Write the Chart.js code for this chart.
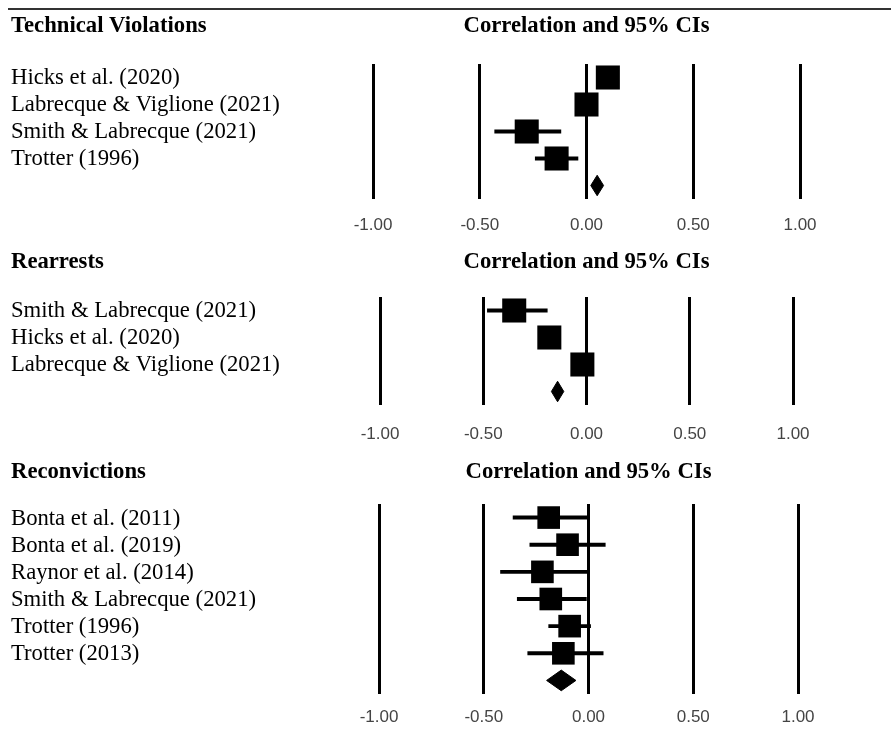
<!DOCTYPE html>
<html>
<head>
<meta charset="utf-8">
<script src="https://cdn.jsdelivr.net/npm/chart.js@4.4.1/dist/chart.umd.min.js"></script>
<style>
  body { margin: 0; background: #fff; }
  .rule { position: absolute; left: 8px; top: 8px; width: 883px; height: 2px; background: #333; }
  canvas { position: absolute; left: 0; }
</style>
</head>
<body>
<div class="rule"></div>
<canvas id="tv" width="891" height="245" style="top:0px"></canvas>
<canvas id="ra" width="891" height="205" style="top:245px"></canvas>
<canvas id="rc" width="891" height="288" style="top:450px"></canvas>
<script>
// x axis ticks
const xTicks = [-1, -0.5, 0, 0.5, 1];

// Technical Violations
const tvStudies = ['Hicks et al. (2020)', 'Labrecque & Viglione (2021)', 'Smith & Labrecque (2021)', 'Trotter (1996)'];
const tvEst = [0.10, 0.00, -0.28, -0.14];
const tvLow = [0.06, -0.04, -0.43, -0.24];
const tvHigh = [0.14, 0.04, -0.12, -0.04];
const tvPooled = [0.02, 0.05, 0.08]; // low, estimate, high

// Rearrests
const raStudies = ['Smith & Labrecque (2021)', 'Hicks et al. (2020)', 'Labrecque & Viglione (2021)'];
const raEst = [-0.35, -0.18, -0.02];
const raLow = [-0.48, -0.22, -0.06];
const raHigh = [-0.19, -0.14, 0.02];
const raPooled = [-0.17, -0.14, -0.11];

// Reconvictions
const rcStudies = ['Bonta et al. (2011)', 'Bonta et al. (2019)', 'Raynor et al. (2014)', 'Smith & Labrecque (2021)', 'Trotter (1996)', 'Trotter (2013)'];
const rcEst = [-0.19, -0.10, -0.22, -0.18, -0.09, -0.12];
const rcLow = [-0.36, -0.28, -0.42, -0.34, -0.19, -0.29];
const rcHigh = [0.00, 0.08, 0.00, -0.01, 0.01, 0.07];
const rcPooled = [-0.20, -0.13, -0.06];

// draws the section heading on the left and the column heading over the plot
const headings = {
  id: 'headings',
  afterDraw(chart, args, opts) {
    const { ctx, chartArea } = chart;
    ctx.save();
    ctx.font = 'bold 22.7px "Liberation Serif"';
    ctx.fillStyle = '#000';
    ctx.textBaseline = 'middle';
    ctx.textAlign = 'left';
    ctx.fillText(opts.left, 11, opts.y);
    ctx.textAlign = 'center';
    ctx.fillText(opts.center, (chartArea.left + chartArea.right) / 2, opts.y);
    ctx.restore();
  }
};

function forest(id, title, studies, est, low, high, pooled, box) {
  const rows = studies.concat(['']); // last row holds the pooled diamond
  const d = studies.length;
  const canvas = document.getElementById(id);
  const h = canvas.height;

  return new Chart(canvas, {
    type: 'scatter',
    data: {
      datasets: [
        {
          // study estimates
          data: est.map((v, i) => ({ x: v, y: i })),
          pointStyle: 'rect',
          pointRadius: box.size,
          pointHoverRadius: box.size,
          backgroundColor: '#000',
          borderWidth: 0
        },
        {
          // confidence intervals
          type: 'bar',
          indexAxis: 'y',
          data: low.map((v, i) => ({ y: i, x: [v, high[i]] })),
          barThickness: 3.3,
          backgroundColor: '#000',
          borderWidth: 0
        },
        {
          // pooled estimate diamond
          data: [
            { x: pooled[0], y: d },
            { x: pooled[1], y: d - 0.38 },
            { x: pooled[2], y: d },
            { x: pooled[1], y: d + 0.38 },
            { x: pooled[0], y: d }
          ],
          showLine: true,
          fill: 'shape',
          backgroundColor: '#000',
          borderColor: '#000',
          borderWidth: 1,
          pointRadius: 0,
          pointHoverRadius: 0
        }
      ]
    },
    options: {
      responsive: false,
      animation: false,
      events: [],
      layout: {
        padding: { left: 11, right: 891 - box.right, top: box.top, bottom: h - box.bottom - 40 }
      },
      plugins: {
        legend: { display: false },
        tooltip: { enabled: false },
        headings: { left: title, center: 'Correlation and 95% CIs', y: box.headY }
      },
      scales: {
        x: {
          type: 'linear',
          min: -1,
          max: 1,
          offset: false,
          afterBuildTicks: s => { s.ticks = xTicks.map(v => ({ value: v })); },
          afterFit: s => { s.height = 40; },
          ticks: {
            autoSkip: false,
            maxRotation: 0,
            padding: box.tickPad,
            color: '#444',
            font: { family: '"Liberation Sans"', size: 17 },
            callback: v => v.toFixed(2)
          },
          grid: { color: '#000', lineWidth: 3, drawTicks: false, offset: false },
          border: { display: false }
        },
        y: {
          type: 'linear',
          reverse: true,
          offset: false,
          min: -0.5,
          max: rows.length - 0.5,
          afterBuildTicks: s => { s.ticks = rows.map((_, i) => ({ value: i })); },
          afterFit: s => { s.width = box.left - 11; },
          ticks: {
            autoSkip: false,
            crossAlign: 'far',
            labelOffset: 1,
            color: '#000',
            font: { family: '"Liberation Serif"', size: 22.7 },
            callback: v => rows[v]
          },
          grid: { display: false, offset: false },
          border: { display: false }
        }
      }
    },
    plugins: [headings]
  });
}

forest('tv', 'Technical Violations', tvStudies, tvEst, tvLow, tvHigh, tvPooled,
  { left: 373, right: 800, top: 64, bottom: 199, tickPad: 16, headY: 26, size: 17 });
forest('ra', 'Rearrests', raStudies, raEst, raLow, raHigh, raPooled,
  { left: 380, right: 793, top: 52, bottom: 160, tickPad: 19, headY: 17, size: 17 });
forest('rc', 'Reconvictions', rcStudies, rcEst, rcLow, rcHigh, rcPooled,
  { left: 379, right: 798, top: 54, bottom: 244, tickPad: 13, headY: 22, size: 16 });
</script>
</body>
</html>
